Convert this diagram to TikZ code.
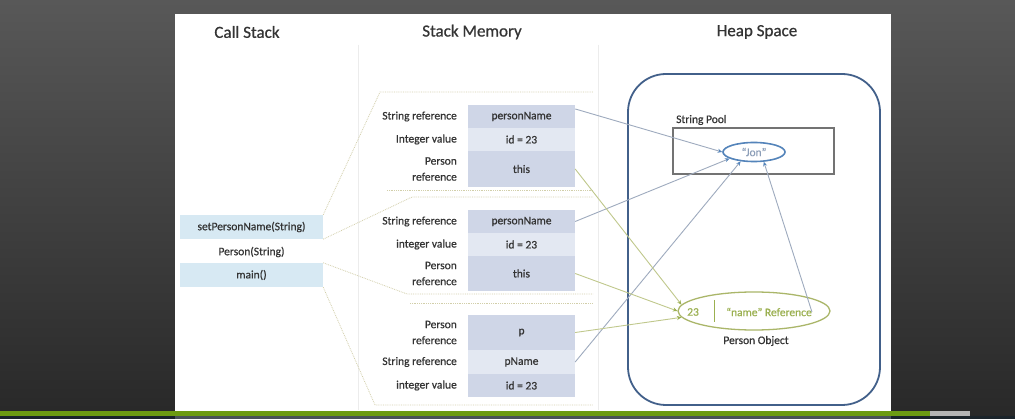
\documentclass[tikz,border=0pt]{standalone}
\usepackage{fontspec}
\setmainfont{Carlito}[RawFeature={embolden=0.7}]
\usetikzlibrary{positioning,arrows.meta,shapes.geometric,calc}
\definecolor{txtclr}{RGB}{52,52,52}
\definecolor{csclr}{RGB}{215,233,243}
\definecolor{celldk}{RGB}{207,214,231}
\definecolor{celllt}{RGB}{227,232,242}
\definecolor{heapclr}{RGB}{66,96,138}
\definecolor{poolclr}{RGB}{115,115,115}
\definecolor{jonclr}{RGB}{84,132,186}
\definecolor{jontxt}{RGB}{140,158,184}
\definecolor{objclr}{RGB}{155,176,80}
\definecolor{objring}{RGB}{170,182,105}
\definecolor{refln}{RGB}{158,170,190}
\definecolor{objln}{RGB}{192,200,140}
\definecolor{frmclr}{RGB}{210,207,170}
\definecolor{sepclr}{RGB}{236,236,236}
\definecolor{bgtop}{RGB}{88,88,88}
\definecolor{bgbot}{RGB}{40,40,40}
\definecolor{barclr}{RGB}{108,155,18}
\definecolor{barend}{RGB}{180,180,180}
\definecolor{footclr}{RGB}{27,36,43}
\definecolor{footmid}{RGB}{74,82,89}
\tikzset{
  hdr/.style={font=\fontsize{17}{20}\selectfont,text=txtclr},
  txt/.style={font=\fontsize{11.5}{16}\selectfont,text=txtclr,inner sep=0pt},
  lbl/.style={txt,anchor=east,align=right},
  csbox/.style={txt,rectangle,fill=csclr,minimum width=143pt,minimum height=24pt},
  cell/.style={txt,rectangle,fill=celldk,minimum width=107pt,minimum height=23pt},
  celll/.style={cell,fill=celllt},
  frameln/.style={draw=frmclr,densely dotted,line width=0.8pt},
  refedge/.style={draw=refln,line width=0.9pt,
                  -{Stealth[length=4.5pt,width=4pt,color=jonclr]}},
  objedge/.style={draw=objln,line width=0.9pt,
                  -{Stealth[length=4.5pt,width=4pt,color=objclr]}},
}

\begin{document}
\begin{tikzpicture}[x=1pt,y=-1pt]
% Slide background
\shade[top color=bgtop,bottom color=bgbot] (0,0) rectangle (1015,419);
\fill[white] (175,14) rectangle (891,411);
\fill[footclr] (0,416) rectangle (1015,419);
\fill[footmid] (175,416) rectangle (891,419);
\fill[barclr] (0,411) rectangle (930,416);
\fill[barend] (930,411) rectangle (970,416);
\useasboundingbox (0,0) rectangle (1015,419);
\draw[sepclr] (358,45) -- (358,410);
\draw[sepclr] (598,45) -- (598,410);

% Column headers
\node[hdr] (hcs) at (247,32) {Call Stack};
\node[hdr] (hsm) at (472,32) {Stack Memory};
\node[hdr] (hhs) at (757,32) {Heap Space};

% Call stack
\node[csbox] (cs1) at (251.5,227) {setPersonName(String)};
\node[txt]   (cs2) at (251.5,252) {Person(String)};
\node[csbox] (cs3) at (251.5,275) {main()};

% Frame 1 (setPersonName)
\node[cell]  (f1a) at (521.5,116.5) {personName};
\node[celll] (f1b) at (521.5,139.5) {id = 23};
\node[cell,minimum height=36pt] (f1c) at (521.5,169) {this};
\node[lbl] (l1a) at (457,116.5) {String reference};
\node[lbl] (l1b) at (457,139.5) {Integer value};
\node[lbl] (l1c) at (457,169) {Person\\reference};

% Frame 2 (Person)
\node[cell]  (f2a) at (521.5,221.5) {personName};
\node[celll] (f2b) at (521.5,244.5) {id = 23};
\node[cell,minimum height=35pt] (f2c) at (521.5,273.5) {this};
\node[lbl] (l2a) at (457,221.5) {String reference};
\node[lbl] (l2b) at (457,244.5) {integer value};
\node[lbl] (l2c) at (457,273.5) {Person\\reference};

% Frame 3 (main)
\node[cell,minimum height=35pt] (f3a) at (521.5,332.5) {p};
\node[celll,minimum height=24pt] (f3b) at (521.5,362) {pName};
\node[cell]  (f3c) at (521.5,385.5) {id = 23};
\node[lbl] (l3a) at (457,332.5) {Person\\reference};
\node[lbl] (l3b) at (457,362) {String reference};
\node[lbl] (l3c) at (457,385.5) {integer value};

% Frame outlines
\coordinate (f1tl) at (380,92);  \coordinate (f1tr) at (593,92);
\coordinate (f1bl) at (387,190); \coordinate (f1br) at (593,190);
\coordinate (f2tl) at (412,197); \coordinate (f2tr) at (593,197);
\coordinate (f2bl) at (407,294); \coordinate (f2br) at (593,294);
\coordinate (f3tl) at (410,303); \coordinate (f3tr) at (593,303);
\coordinate (f3bl) at (375,405); \coordinate (f3br) at (593,405);
\draw[frameln] (cs1.north east) -- (f1tl) -- (f1tr);
\draw[frameln] (f1bl) -- (f1br);
\draw[frameln] (cs1.south east) -- (f2tl) -- (f2tr);
\draw[frameln] (cs3.north east) -- (f2bl) -- (f2br);
\draw[frameln] (f3tl) -- (f3tr);
\draw[frameln] (cs3.south east) -- (f3bl) -- (f3br);

% Heap space
\node[draw=heapclr,line width=1.8pt,rounded corners=38pt,
      minimum width=252pt,minimum height=331pt] (heap) at (754,239.5) {};
\node[draw=poolclr,line width=1.3pt,minimum width=161pt,
      minimum height=46pt] (pool) at (753.5,151) {};
\node[txt,anchor=west] (poollbl) at (676,120) {String Pool};
\node[txt,text=jontxt,ellipse,draw=jonclr,line width=1.6pt,
      minimum width=62pt,minimum height=19pt] (jon) at (754,152) {“Jon”};

% Person object
\node[ellipse,draw=objring,line width=1.3pt,minimum width=152pt,
      minimum height=38pt] (pobj) at (754,311) {};
\node[txt,text=objclr] (pval) at (693,312) {23};
\node[txt,text=objclr] (pref) at (769,312) {“name” Reference};
\draw[objclr,line width=1pt] (714,300) -- (714,322);
\node[txt] (plbl) at (756,341) {Person Object};

% References
\foreach \s/\t in {f1a.8/jon.west,f2a.east/jon.195,f3b.east/jon.215,pref.east/jon.315}
  \draw[refedge] (\s) -- (\t);
\foreach \s/\t in {f1c.east/pobj.175,f2c.east/pobj.west,f3a.east/pobj.185}
  \draw[objedge] (\s) -- (\t);

\end{tikzpicture}
\end{document}
